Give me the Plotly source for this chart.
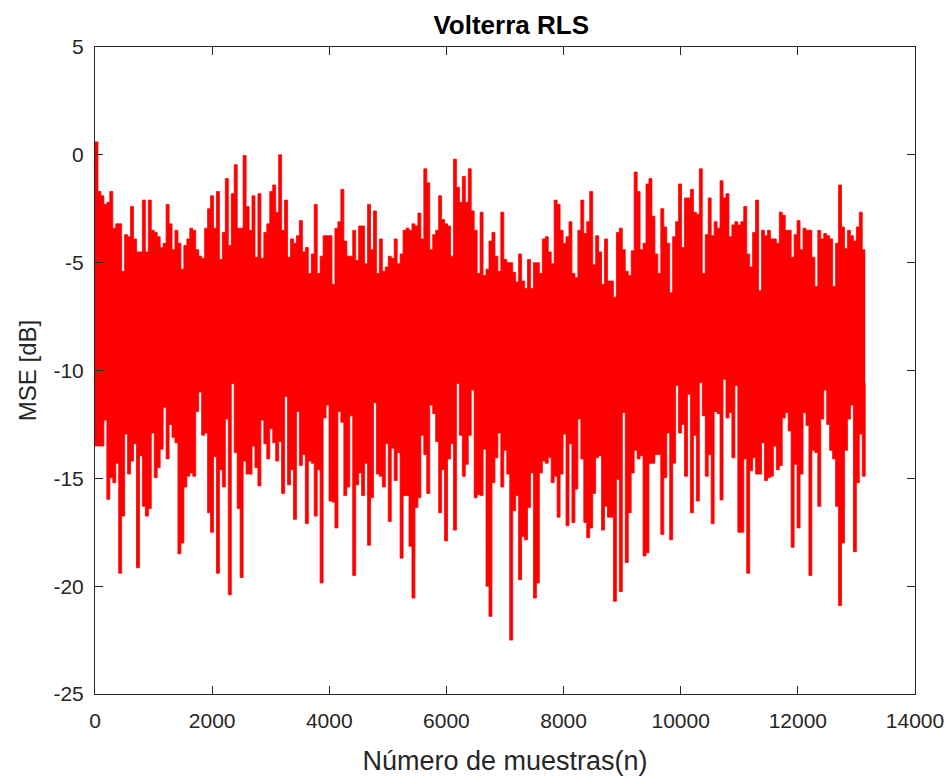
import numpy as np
import plotly.graph_objects as go

# Upper envelope of MSE [dB] (max per ~50-sample block)
mse_upper = [
    # 0 .. ~2150
    0.6, -1.7, -1.9, -2.3, -2.2, -1.7, -3.4, -3.2, -3.2, -5.4, -3.7, -3.8, -2.4, -3.9,
    -4.5, -4.5, -2.1, -4.5, -2.1, -3.5, -3.6, -3.8, -4.3, -4.1, -2.3, -3.2, -4.4, -3.5,
    -4.1, -5.3, -4.2, -3.9, -3.4, -3.5, -4.4, -4.7, -4.8, -3.4, -2.5, -1.9, -3.4, -1.7,
    # ~2150 .. ~4350
    -4.85, -3.6, -1.1, -4.2, -1.8, -0.46, -3.4, -3.4, -0.03, -2.4, -3.5, -1.9, -4.75, -1.8,
    -4.8, -3.6, -3.2, -1.7, -1.4, -2.66, 0.0, -3.5, -2.1, -4.75, -3.9, -4.1, -3.75, -3.05,
    -4.5, -4.3, -5.5, -4.6, -2.3, -5.5, -4.7, -3.75, -3.75, -3.75, -6.0, -3.4, -3.1, -1.6,
    -4.0, -4.7,
    # ~4350 .. ~6550
    -4.7, -3.5, -4.9, -3.3, -3.3, -5.05, -2.3, -4.4, -2.6, -5.5, -3.9, -5.4, -5.2, -4.7,
    -4.8, -3.9, -5.05, -4.6, -3.5, -3.4, -3.5, -3.2, -3.3, -2.7, -3.9, -0.65, -1.3, -4.4,
    -3.7, -3.5, -1.9, -3.0, -3.2, -3.3, -4.7, -0.2, -1.5, -2.2, -1.0, -2.2, -0.65, -2.6,
    -3.5, -5.5,
    # ~6550 .. ~8750
    -2.66, -5.6, -5.3, -4.0, -3.6, -4.7, -5.4, -2.66, -4.85, -5.0, -5.0, -5.45, -5.9, -4.6,
    -5.85, -6.2, -4.85, -6.2, -5.0, -5.0, -5.5, -3.9, -3.8, -4.5, -5.05, -2.1, -2.3, -3.5,
    -4.1, -3.8, -3.1, -5.5, -5.7, -3.5, -2.1, -3.65, -3.1, -1.7, -5.1, -3.75, -4.5, -6.0,
    -3.9, -5.85,
    # ~8750 .. ~10950
    -5.85, -6.6, -3.6, -3.4, -4.4, -5.4, -5.6, -4.45, -0.8, -1.7, -4.4, -4.1, -1.35, -1.1,
    -2.85, -4.6, -5.5, -2.5, -3.35, -4.1, -6.4, -3.8, -3.1, -1.35, -4.3, -2.0, -2.0, -1.6,
    -2.66, -2.75, -0.65, -5.5, -3.7, -2.0, -3.75, -3.1, -3.4, -1.2, -2.0, -1.8, -3.8, -3.25,
    -3.1, -3.25,
    # ~10950 .. 13150
    -3.1, -2.4, -4.6, -5.2, -3.6, -2.1, -6.3, -3.5, -3.75, -3.5, -3.9, -3.9, -4.1, -2.66,
    -2.8, -3.5, -3.5, -4.75, -3.7, -3.05, -4.4, -3.4, -3.5, -3.5, -4.75, -6.1, -3.5, -3.9,
    -3.65, -3.75, -3.9, -6.1, -4.1, -1.4, -3.35, -4.35, -3.5, -3.75, -4.0, -3.35, -2.66,
    -4.4, -4.4,
]

# Lower envelope of MSE [dB] (min per ~50-sample block)
mse_lower = [
    # 0 .. ~2150
    -13.5, -13.5, -13.5, -12.3, -15.97, -14.97, -15.2, -14.3, -19.4, -16.75, -12.95, -14.8,
    -14.2, -13.4, -19.15, -13.95, -16.3, -16.75, -16.4, -12.9, -14.97, -14.5, -13.65, -11.7,
    -14.1, -12.5, -13.1, -13.35, -18.5, -18.0, -15.4, -14.9, -14.75, -14.9, -11.9, -11.0,
    -13.0, -12.9, -16.6, -17.5, -14.0, -19.4,
    # ~2150 .. ~4350
    -14.6, -15.4, -12.25, -20.4, -10.6, -13.8, -16.4, -19.6, -14.2, -14.8, -14.8, -13.5,
    -14.5, -15.35, -12.3, -13.4, -14.1, -12.7, -13.35, -14.2, -13.3, -15.7, -11.2, -15.3,
    -14.6, -16.9, -11.9, -14.4, -13.9, -17.1, -14.2, -14.3, -16.75, -14.6, -19.85, -12.2,
    -11.6, -16.05, -16.1, -17.3, -11.9, -12.4, -15.8, -15.4,
    # ~4350 .. ~6550
    -12.1, -19.5, -15.3, -14.75, -15.8, -14.3, -18.1, -15.9, -11.5, -14.8, -14.9, -15.4,
    -13.4, -17.0, -13.6, -15.1, -13.8, -18.7, -15.8, -15.8, -18.15, -20.55, -16.35, -15.9,
    -13.0, -13.9, -15.7, -11.6, -12.0, -13.3, -16.6, -14.6, -17.9, -14.1, -13.4, -17.4,
    -10.6, -13.0, -14.9, -14.35, -13.0, -10.9, -15.9, -15.75,
    # ~6550 .. ~8750
    -15.8, -13.65, -20.0, -21.4, -15.2, -14.05, -12.9, -15.4, -13.7, -14.8, -22.5, -16.5,
    -15.8, -19.7, -17.7, -17.85, -16.35, -14.75, -20.55, -19.85, -14.75, -14.2, -14.3,
    -14.05, -15.2, -14.9, -16.8, -14.8, -12.95, -17.2, -13.4, -17.05, -15.5, -12.25, -14.1,
    -17.05, -17.75, -17.3, -15.7, -14.05, -13.95, -17.4, -16.3, -16.8,
    # ~8750 .. ~10950
    -16.8, -20.7, -15.05, -20.25, -11.95, -18.9, -16.6, -14.75, -13.7, -14.1, -13.95, -18.6,
    -18.45, -14.3, -14.3, -13.9, -13.9, -17.6, -14.97, -12.9, -17.85, -14.3, -10.7, -12.9,
    -12.5, -14.9, -11.1, -16.6, -13.0, -16.05, -10.55, -12.1, -14.9, -13.9, -17.1, -11.9,
    -12.0, -16.0, -10.4, -12.2, -11.95, -14.05, -10.7, -17.5,
    # ~10950 .. 13150
    -17.5, -14.1, -19.4, -14.65, -14.05, -14.8, -14.8, -13.35, -15.1, -14.97, -14.9, -13.5,
    -14.6, -14.4, -12.2, -11.95, -12.8, -18.2, -14.35, -17.3, -14.8, -11.95, -12.55, -19.5,
    -13.7, -13.8, -16.3, -12.25, -10.9, -12.5, -13.7, -14.1, -16.3, -20.9, -18.0, -13.7,
    -12.25, -11.6, -18.4, -15.2, -12.95, -14.9, -10.6,
]

n_samples = 13150
x_ticks = [0, 2000, 4000, 6000, 8000, 10000, 12000, 14000]
y_ticks = [-25, -20, -15, -10, -5, 0, 5]

x_up = np.linspace(0, n_samples, len(mse_upper))
x_lo = np.linspace(0, n_samples, len(mse_lower))

fig = go.Figure()
fig.add_trace(go.Scatter(
    x=x_lo, y=mse_lower, mode="lines", line=dict(color="#ff0000", width=0.8, shape="hv"),
    showlegend=False, hoverinfo="skip"))
fig.add_trace(go.Scatter(
    x=x_up, y=mse_upper, mode="lines", line=dict(color="#ff0000", width=0.8, shape="hv"),
    fill="tonexty", fillcolor="#ff0000", showlegend=False, hoverinfo="skip"))

font_family = "Liberation Sans, Arial, sans-serif"
axis_common = dict(
    showline=True, linecolor="#262626", linewidth=1, mirror="ticks",
    ticks="inside", ticklen=8, tickcolor="#262626", showgrid=False, zeroline=False,
    automargin=False,
    tickfont=dict(family=font_family, size=21, color="#262626"),
)

fig.update_layout(
    width=952, height=776,
    margin=dict(l=95, r=37, t=47, b=82, autoexpand=False),
    paper_bgcolor="white", plot_bgcolor="white",
    title=dict(text="<b>Volterra RLS</b>", x=0.537, xanchor="center", y=0.968, yanchor="middle",
               font=dict(family=font_family, size=26, color="black")),
    font=dict(family=font_family),
)
fig.update_xaxes(range=[0, 14000], tickvals=x_ticks, ticktext=[str(v) for v in x_ticks],
                 title=dict(text="Número de muestras(n)", standoff=20,
                            font=dict(family=font_family, size=27, color="#262626")),
                 ticklabelstandoff=8, **axis_common)
fig.update_yaxes(range=[-25, 5], tickvals=y_ticks, ticktext=[str(v) for v in y_ticks],
                 title=dict(text="MSE [dB]", standoff=10,
                            font=dict(family=font_family, size=24, color="#262626")),
                 ticklabelstandoff=6, **axis_common)

fig.write_html("out.html")
